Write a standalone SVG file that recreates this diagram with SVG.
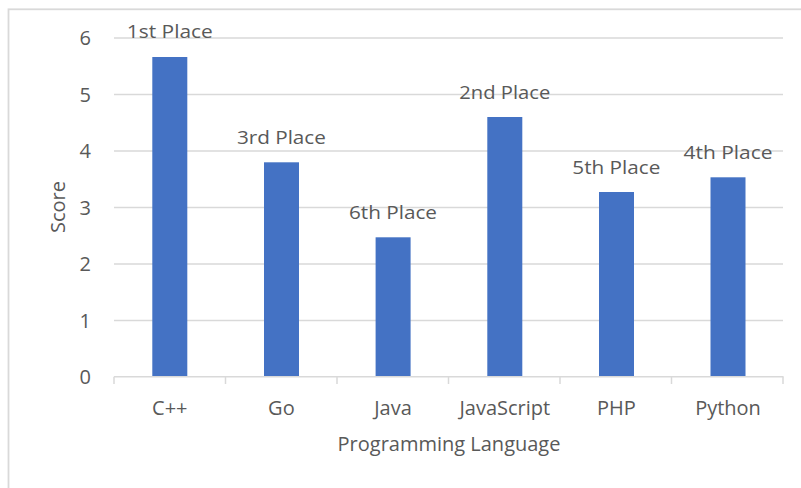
<svg xmlns="http://www.w3.org/2000/svg" width="801" height="488" viewBox="0 0 801 488">
  <style>
    .frame { fill: #ffffff; stroke: #d9d9d9; stroke-width: 1.8; }
    .grid { stroke: #d9d9d9; stroke-width: 1.5; fill: none; }
    .axis { stroke: #d9d9d9; stroke-width: 1.5; fill: none; }
    .bar { fill: #4472c4; }
    text { font-family: "Open Sans", "Liberation Sans", sans-serif; fill: #595959; }
    .tick { font-size: 20px; text-anchor: end; }
    .cat { font-size: 20px; text-anchor: middle; }
    .title { font-size: 20px; text-anchor: middle; }
    .dlabel { font-size: 18.5px; text-anchor: middle; }
  </style>

  <!-- chart area frame -->
  <rect class="frame" x="8.5" y="9.3" width="820" height="500"/>

  <!-- horizontal gridlines, 0..6 -->
  <g id="gridlines">
    <line class="grid" x1="114" y1="320.5" x2="783" y2="320.5"/>
    <line class="grid" x1="114" y1="264" x2="783" y2="264"/>
    <line class="grid" x1="114" y1="207.5" x2="783" y2="207.5"/>
    <line class="grid" x1="114" y1="151" x2="783" y2="151"/>
    <line class="grid" x1="114" y1="94.5" x2="783" y2="94.5"/>
    <line class="grid" x1="114" y1="38" x2="783" y2="38"/>
  </g>

  <!-- value axis labels -->
  <g id="y-axis">
    <text class="tick" x="91" y="384">0</text>
    <text class="tick" x="91" y="327.5">1</text>
    <text class="tick" x="91" y="271">2</text>
    <text class="tick" x="91" y="214.5">3</text>
    <text class="tick" x="91" y="158">4</text>
    <text class="tick" x="91" y="101.5">5</text>
    <text class="tick" x="91" y="45">6</text>
    <text class="title" transform="translate(65 207) rotate(-90)">Score</text>
  </g>

  <!-- bars -->
  <g id="bar-cpp">
    <rect class="bar" x="152.3" y="57" width="35" height="319.5"/>
    <text class="dlabel" x="169.8" y="38" textLength="86" lengthAdjust="spacingAndGlyphs">1st Place</text>
  </g>
  <g id="bar-go">
    <rect class="bar" x="264" y="162.3" width="35" height="214.2"/>
    <text class="dlabel" x="281.4" y="144" textLength="89" lengthAdjust="spacingAndGlyphs">3rd Place</text>
  </g>
  <g id="bar-java">
    <rect class="bar" x="375.6" y="237.3" width="35" height="139.2"/>
    <text class="dlabel" x="393" y="219" textLength="88" lengthAdjust="spacingAndGlyphs">6th Place</text>
  </g>
  <g id="bar-javascript">
    <rect class="bar" x="487.3" y="117" width="35" height="259.5"/>
    <text class="dlabel" x="504.8" y="98.5" textLength="91" lengthAdjust="spacingAndGlyphs">2nd Place</text>
  </g>
  <g id="bar-php">
    <rect class="bar" x="599" y="192" width="35" height="184.5"/>
    <text class="dlabel" x="616.3" y="174" textLength="88" lengthAdjust="spacingAndGlyphs">5th Place</text>
  </g>
  <g id="bar-python">
    <rect class="bar" x="710.5" y="177.3" width="35" height="199.2"/>
    <text class="dlabel" x="728" y="158.5" textLength="89" lengthAdjust="spacingAndGlyphs">4th Place</text>
  </g>

  <!-- category axis -->
  <g id="x-axis">
    <line class="axis" x1="114" y1="376.8" x2="783.5" y2="376.8"/>
    <path class="axis" d="M114 376.8V384 M225.5 376.8V384 M337 376.8V384 M448.5 376.8V384 M560 376.8V384 M671.5 376.8V384 M783 376.8V384"/>
    <text class="cat" x="169.8" y="414.5">C++</text>
    <text class="cat" x="281.4" y="414.5">Go</text>
    <text class="cat" x="393" y="414.5">Java</text>
    <text class="cat" x="504.8" y="414.5">JavaScript</text>
    <text class="cat" x="616.3" y="414.5">PHP</text>
    <text class="cat" x="728" y="414.5">Python</text>
    <text class="title" x="449" y="451">Programming Language</text>
  </g>
</svg>
